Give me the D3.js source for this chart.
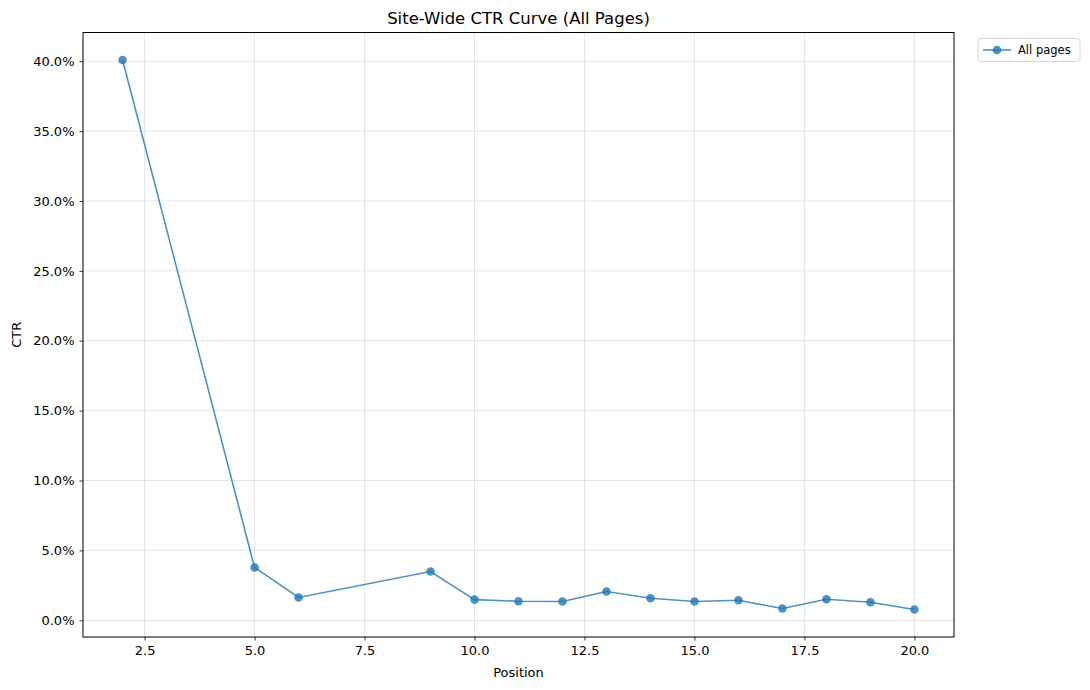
<!DOCTYPE html>
<html>
<head>
<meta charset="utf-8">
<title>Site-Wide CTR Curve</title>
<script src="https://d3js.org/d3.v7.min.js"></script>
<style>
  body { margin: 0; background: #fff; }
  svg text { font-family: "DejaVu Sans", sans-serif; fill: #000; }
</style>
</head>
<body>
<div id="chart"></div>
<script>
// data
const positions = [2, 5, 6, 9, 10, 11, 12, 13, 14, 15, 16, 17, 18, 19, 20];
const ctr = [0.4009, 0.0378, 0.0163, 0.0349, 0.0148, 0.0136, 0.0134, 0.0206, 0.0158, 0.0134, 0.0143, 0.0084, 0.0150, 0.0129, 0.0077];
const xTicks = [2.5, 5, 7.5, 10, 12.5, 15, 17.5, 20];
const yTicks = [0, 0.05, 0.10, 0.15, 0.20, 0.25, 0.30, 0.35, 0.40];
const seriesName = "All pages";

const W = 1090, H = 690;
const margin = {top: 32.5, right: 136, bottom: 53, left: 83};
const width = W - margin.left - margin.right,
      height = H - margin.top - margin.bottom;
const color = "#1f77b4";

const svg = d3.select("#chart").append("svg")
    .attr("width", W).attr("height", H);

const g = svg.append("g")
    .attr("transform", `translate(${margin.left},${margin.top})`);

// matplotlib-like 5% padding
const xPad = (d3.max(positions) - d3.min(positions)) * 0.05;
const yPad = (d3.max(ctr) - d3.min(ctr)) * 0.05;
const x = d3.scaleLinear()
    .domain([d3.min(positions) - xPad, d3.max(positions) + xPad])
    .range([0, width]);
const y = d3.scaleLinear()
    .domain([d3.min(ctr) - yPad, d3.max(ctr) + yPad])
    .range([height, 0]);

// grid
g.append("g").selectAll("line").data(xTicks).join("line")
    .attr("x1", d => x(d)).attr("x2", d => x(d))
    .attr("y1", 0).attr("y2", height)
    .attr("stroke", "#b0b0b0").attr("stroke-opacity", 0.4).attr("stroke-width", 0.8);
g.append("g").selectAll("line").data(yTicks).join("line")
    .attr("y1", d => y(d)).attr("y2", d => y(d))
    .attr("x1", 0).attr("x2", width)
    .attr("stroke", "#b0b0b0").attr("stroke-opacity", 0.4).attr("stroke-width", 0.8);

// axes
const xAxis = g.append("g")
    .attr("transform", `translate(0,${height})`)
    .call(d3.axisBottom(x).tickValues(xTicks).tickFormat(d3.format(".1f")).tickSize(3.5).tickPadding(5));
const yAxis = g.append("g")
    .call(d3.axisLeft(y).tickValues(yTicks).tickFormat(d3.format(".1%")).tickSize(3.5).tickPadding(5));
[xAxis, yAxis].forEach(a => {
  a.select(".domain").remove();
  a.selectAll("text").style("font-size", "13px").style("font-family", "DejaVu Sans");
  a.selectAll("line").attr("stroke", "#000").attr("stroke-width", 0.8);
});

// frame
g.append("rect")
    .attr("width", width).attr("height", height)
    .attr("fill", "none").attr("stroke", "#000").attr("stroke-width", 1);

// line + markers
const data = positions.map((p, i) => ({p: p, v: ctr[i]}));
g.append("path")
    .datum(data)
    .attr("fill", "none")
    .attr("stroke", color).attr("stroke-opacity", 0.8).attr("stroke-width", 1.6)
    .attr("d", d3.line().x(d => x(d.p)).y(d => y(d.v)));
g.selectAll("circle.pt").data(data).join("circle")
    .attr("class", "pt")
    .attr("cx", d => x(d.p)).attr("cy", d => y(d.v))
    .attr("r", 4.3)
    .attr("fill", color).attr("fill-opacity", 0.8);

// labels
svg.append("text")
    .attr("x", margin.left + width / 2).attr("y", 24)
    .attr("text-anchor", "middle").style("font-size", "16.5px")
    .text("Site-Wide CTR Curve (All Pages)");
svg.append("text")
    .attr("x", margin.left + width / 2).attr("y", H - 13)
    .attr("text-anchor", "middle").style("font-size", "13px")
    .text("Position");
svg.append("text")
    .attr("transform", `translate(21,${margin.top + height / 2}) rotate(-90)`)
    .attr("text-anchor", "middle").style("font-size", "13px")
    .text("CTR");

// legend
const lg = svg.append("g").attr("transform", `translate(${margin.left + width + 24},${margin.top + 6})`);
lg.append("rect")
    .attr("width", 102).attr("height", 23).attr("rx", 3)
    .attr("fill", "#fff").attr("stroke", "#ccc").attr("stroke-width", 0.8);
lg.append("line")
    .attr("x1", 5).attr("x2", 33).attr("y1", 11.5).attr("y2", 11.5)
    .attr("stroke", color).attr("stroke-opacity", 0.8).attr("stroke-width", 1.6);
lg.append("circle")
    .attr("cx", 19).attr("cy", 11.5).attr("r", 4.3)
    .attr("fill", color).attr("fill-opacity", 0.8);
lg.append("text")
    .attr("x", 40).attr("y", 15.5).style("font-size", "11.5px")
    .text(seriesName);
</script>
</body>
</html>
